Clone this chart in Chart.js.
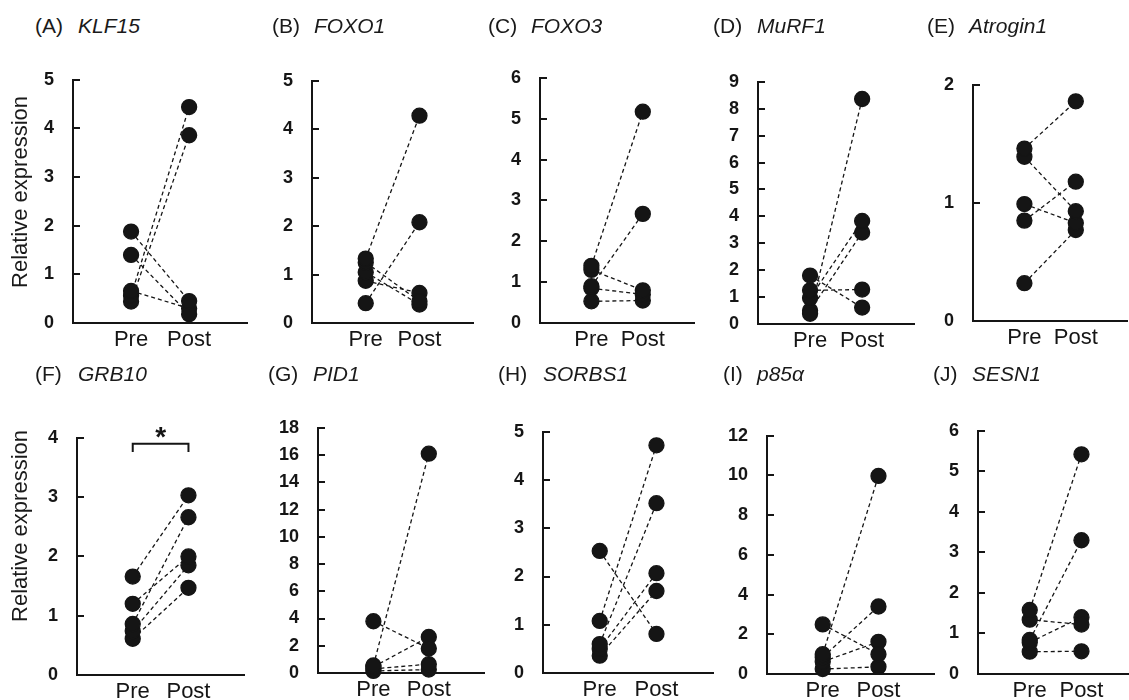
<!DOCTYPE html>
<html>
<head>
<meta charset="utf-8">
<script src="https://cdn.jsdelivr.net/npm/chart.js@4.4.1/dist/chart.umd.min.js"></script>
<style>
  body { margin: 0; background: #fff; width: 1129px; height: 700px; overflow: hidden; position: relative;
         font-family: "Liberation Sans", Arial, sans-serif; color: #1a1a1a; }
  .panel { position: absolute; }
  .ttl { position: absolute; font-size: 21px; line-height: 1; white-space: nowrap; transform: translateY(-50%); }
  .gene { position: absolute; font-size: 21px; line-height: 1; white-space: nowrap; font-style: italic; transform: translateY(-50%); }
  .ylab { position: absolute; font-size: 22px; line-height: 1; white-space: nowrap;
          transform: translate(-50%, -50%) rotate(-90deg); }
</style>
</head>
<body>
<script>
/* datos */
const categorias = ['Pre', 'Post']
const letras = ['A', 'B', 'C', 'D', 'E', 'F', 'G', 'H', 'I', 'J']
const genes = ['KLF15', 'FOXO1', 'FOXO3', 'MuRF1', 'Atrogin1', 'GRB10', 'PID1', 'SORBS1', 'p85α', 'SESN1']
const yMax = [5, 5, 6, 9, 2, 4, 18, 5, 12, 6]
const yPaso = [1, 1, 1, 1, 1, 1, 2, 1, 2, 1]

const preKLF15 = [1.88, 1.40, 0.66, 0.56, 0.44]
const postKLF15 = [0.45, 0.18, 0.30, 4.44, 3.86]
const preFOXO1 = [1.33, 1.25, 1.05, 0.87, 0.41]
const postFOXO1 = [4.28, 0.45, 0.38, 0.62, 2.08]
const preFOXO3 = [1.40, 0.90, 1.30, 0.85, 0.53]
const postFOXO3 = [5.17, 2.67, 0.80, 0.70, 0.55]
const preMuRF1 = [0.38, 1.80, 1.25, 0.97, 0.50]
const postMuRF1 = [8.36, 0.61, 1.28, 3.83, 3.40]
const preAtrogin1 = [1.46, 1.39, 0.99, 0.85, 0.32]
const postAtrogin1 = [1.86, 0.93, 0.83, 1.18, 0.77]
const preGRB10 = [1.66, 1.20, 0.86, 0.74, 0.61]
const postGRB10 = [3.03, 2.00, 2.66, 1.85, 1.47]
const prePID1 = [3.80, 0.55, 0.45, 0.30, 0.15]
const postPID1 = [1.80, 16.1, 2.65, 0.65, 0.25]
const preSORBS1 = [2.53, 1.08, 0.60, 0.50, 0.36]
const postSORBS1 = [0.81, 4.72, 3.52, 2.07, 1.70]
const preP85 = [2.50, 1.00, 0.85, 0.62, 0.25]
const postP85 = [1.00, 9.98, 3.40, 1.62, 0.36]
const preSESN1 = [1.58, 0.84, 1.34, 0.78, 0.55]
const postSESN1 = [5.42, 3.30, 1.22, 1.40, 0.56]

const valoresPre = [preKLF15, preFOXO1, preFOXO3, preMuRF1, preAtrogin1, preGRB10, prePID1, preSORBS1, preP85, preSESN1]
const valoresPost = [postKLF15, postFOXO1, postFOXO3, postMuRF1, postAtrogin1, postGRB10, postPID1, postSORBS1, postP85, postSESN1]

// significancia en GRB10 (panel F)
const corchete = { panel: 5, arriba: 3.90, pata: 3.76, texto: '*' }

/* posiciones (pixeles del eje) */
const geom = [
    { l: 73, r: 256, t: 65, b: 323, tx: 35, gx: 78, ty: 25 },
    { l: 312, r: 482, t: 66, b: 323, tx: 272, gx: 314, ty: 25 },
    { l: 540, r: 703, t: 63, b: 323, tx: 488, gx: 531, ty: 25 },
    { l: 758, r: 923, t: 67, b: 324, tx: 713, gx: 757, ty: 25 },
    { l: 973, r: 1136, t: 70, b: 321, tx: 927, gx: 969, ty: 25 },
    { l: 77, r: 253, t: 423, b: 675, tx: 35, gx: 78, ty: 373 },
    { l: 318, r: 493, t: 413, b: 673, tx: 268, gx: 313, ty: 373 },
    { l: 543, r: 722, t: 417, b: 673, tx: 498, gx: 543, ty: 373 },
    { l: 767, r: 943, t: 421, b: 674, tx: 723, gx: 757, ty: 373 },
    { l: 978, r: 1142, t: 416, b: 674, tx: 933, gx: 972, ty: 373 }
]
const ANCHO_Y = 60, PAD_T = 15, ALTO_X = 40
const NEGRO = '#151515'

const marcasDentro = {
    id: 'marcasDentro',
    afterDraw(chart) {
        const ctx = chart.ctx, y = chart.scales.y, a = chart.chartArea
        ctx.save()
        ctx.strokeStyle = NEGRO
        ctx.lineWidth = 2
        y.ticks.forEach(t => {
            const py = Math.round(y.getPixelForValue(t.value))
            ctx.beginPath()
            ctx.moveTo(a.left, py)
            ctx.lineTo(a.left + 7, py)
            ctx.stroke()
        })
        ctx.restore()
    }
}

const dibujarCorchete = {
    id: 'dibujarCorchete',
    afterDatasetsDraw(chart, args, opts) {
        if (!opts.activo) return
        const ctx = chart.ctx, x = chart.scales.x, y = chart.scales.y
        const x1 = x.getPixelForValue(1), x2 = x.getPixelForValue(2)
        const yA = y.getPixelForValue(corchete.arriba), yP = y.getPixelForValue(corchete.pata)
        ctx.save()
        ctx.strokeStyle = NEGRO
        ctx.lineWidth = 2
        ctx.beginPath()
        ctx.moveTo(x1, yP)
        ctx.lineTo(x1, yA)
        ctx.lineTo(x2, yA)
        ctx.lineTo(x2, yP)
        ctx.stroke()
        ctx.fillStyle = NEGRO
        ctx.font = 'bold 28px "Liberation Sans", Arial'
        ctx.textAlign = 'center'
        ctx.textBaseline = 'middle'
        ctx.fillText(corchete.texto, (x1 + x2) / 2, yA - 5)
        ctx.restore()
    }
}

function CrearTexto(clase, texto, x, y) {
    let d = document.createElement('div')
    d.className = clase
    d.textContent = texto
    d.style.left = x + 'px'
    d.style.top = y + 'px'
    document.body.appendChild(d)
}

function CrearPanel(i) {
    const g = geom[i]
    const w = g.r - g.l + ANCHO_Y
    const h = g.b - g.t + PAD_T + ALTO_X
    let div = document.createElement('div')
    div.className = 'panel'
    div.style.left = (g.l - ANCHO_Y) + 'px'
    div.style.top = (g.t - PAD_T) + 'px'
    let canvas = document.createElement('canvas')
    canvas.width = w
    canvas.height = h
    div.appendChild(canvas)
    document.body.appendChild(div)

    let datasets = valoresPre[i].map((v, k) => ({
        data: [{ x: 1, y: v }, { x: 2, y: valoresPost[i][k] }],
        showLine: true,
        borderColor: NEGRO,
        borderWidth: 1.3,
        borderDash: [4, 3],
        backgroundColor: NEGRO,
        pointBackgroundColor: NEGRO,
        pointBorderColor: NEGRO,
        pointRadius: 7.5,
        pointHoverRadius: 7.5,
        clip: false
    }))

    return new Chart(canvas, {
        type: 'scatter',
        data: { datasets: datasets },
        plugins: [marcasDentro, dibujarCorchete],
        options: {
            responsive: false,
            animation: false,
            layout: { padding: { top: PAD_T, left: 0, right: 0, bottom: 0 } },
            plugins: {
                legend: { display: false },
                tooltip: { enabled: false },
                dibujarCorchete: { activo: i === corchete.panel }
            },
            scales: {
                x: {
                    type: 'linear', min: 0, max: 3,
                    afterBuildTicks: s => { s.ticks = [{ value: 1 }, { value: 2 }] },
                    afterFit: s => { s.height = ALTO_X },
                    grid: { display: false, drawTicks: false },
                    border: { color: NEGRO, width: 2 },
                    ticks: {
                        callback: v => categorias[v - 1],
                        color: NEGRO,
                        padding: 4,
                        maxRotation: 0,
                        font: { family: '"Liberation Sans", Arial', size: 22 }
                    }
                },
                y: {
                    min: 0, max: yMax[i],
                    afterFit: s => { s.width = ANCHO_Y },
                    grid: { display: false, drawTicks: false },
                    border: { color: NEGRO, width: 2 },
                    ticks: {
                        stepSize: yPaso[i],
                        color: NEGRO,
                        padding: 19,
                        font: { family: '"Liberation Sans", Arial', size: 18, weight: 'bold' }
                    }
                }
            }
        }
    })
}

for (let i = 0; i < genes.length; i++) {
    CrearPanel(i)
    CrearTexto('ttl', `(${letras[i]})`, geom[i].tx, geom[i].ty)
    CrearTexto('gene', genes[i], geom[i].gx, geom[i].ty)
}
CrearTexto('ylab', 'Relative expression', 20, 192)
CrearTexto('ylab', 'Relative expression', 20, 526)
</script>
</body>
</html>
